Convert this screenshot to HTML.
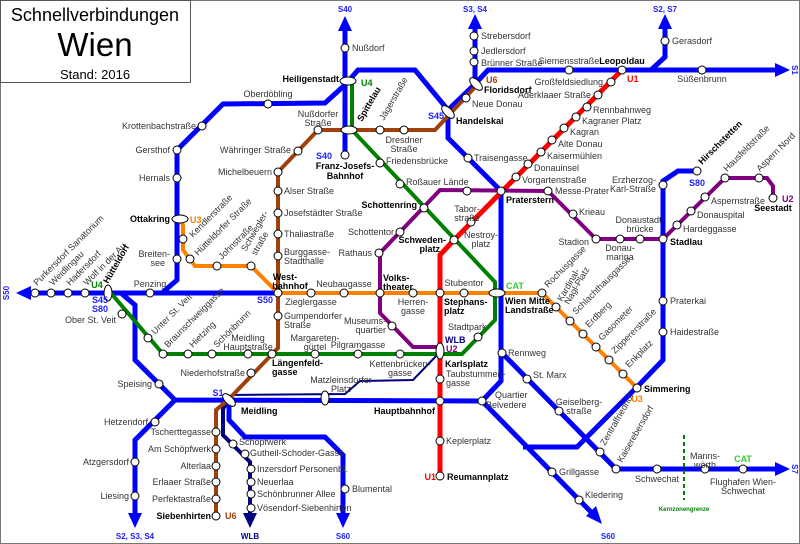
<!DOCTYPE html>
<html><head><meta charset="utf-8"><style>
html,body{margin:0;padding:0;background:#fff}
svg{display:block}
text{font-family:"Liberation Sans",sans-serif;font-size:9px;fill:#333}
.b{font-weight:bold;fill:#000}
.bl{fill:#2020ff;font-weight:bold}
</style></head><body>
<svg width="800" height="544" viewBox="0 0 800 544" xmlns="http://www.w3.org/2000/svg">
<rect x="0.5" y="0.5" width="799" height="543" fill="#fff" stroke="#777"/>
<rect x="0.5" y="0.5" width="190" height="82" fill="#fff" stroke="#555"/>
<text x="95" y="21" text-anchor="middle" style="font-size:18px;fill:#000">Schnellverbindungen</text>
<text x="95" y="56" text-anchor="middle" style="font-size:33px;fill:#000">Wien</text>
<text x="95" y="79" text-anchor="middle" style="font-size:13px;fill:#000">Stand: 2016</text>

<g fill="none" stroke-linejoin="miter">
<polyline stroke="#000080" stroke-width="4" points="227,402 223,409 223,435 250,462 250,522"/>
<polyline stroke="#000080" stroke-width="2" points="232,395 345,394 360,381 413,380 440,352"/>
<g stroke="#0000ff" stroke-width="5">
<polyline points="345,28 345,155"/>
<polyline points="345,85 358,70 415,70 448,110 448,138 501,191 501,381 482,401"/>
<polyline points="448,110 475,84 475,26"/>
<polyline points="475,84 488,70 780,70"/>
<polyline points="651,70 665,57 665,28"/>
<polyline points="347,83 325,103 223,104 177,150 177,280 163,292"/>
<polyline points="28,293 278,293"/>
<polyline points="122,294 135,305 135,360 175,400 482,401"/>
<polyline points="175,400 135,440 135,516"/>
<polyline points="229,401 229,420 245,437 325,437 343,455 343,516"/>
<polyline points="482,401 592,513"/>
<polyline points="502,353 616,469 780,469"/>
<polyline points="697,171 678,171 663,181 663,360 637,387 577,447 530,447 523,447"/>
</g>
<polyline stroke="#008000" stroke-width="4" points="352,80 352,130 495,282 495,320 462,354 400,354 163,354 110,292"/>
<polyline stroke="#ff0000" stroke-width="5" points="622,70 454,240 440,255 440,476"/>
<polyline stroke="#a0400a" stroke-width="4" points="476,86 435,130 318,130 278,172 278,348 229,399 216,410 216,516"/>
<polyline stroke="#ff7f00" stroke-width="4" points="180,219 183,225 183,250 195,266 251,266 278,293 542,293 637,388"/>
<polyline stroke="#800080" stroke-width="4" points="440,347 413,347 380,313 380,253 440,190 548,191 596,239 663,239 725,178 767,178 773,186 773,198"/>
<line x1="684" y1="435" x2="684" y2="500" stroke="#008000" stroke-width="2" stroke-dasharray="4,3"/>
</g>
<g fill="#0000ff">
<polygon points="345,16 338,31 352,31"/>
<polygon points="475,14 468,29 482,29"/>
<polygon points="665,14 658,29 672,29"/>
<polygon points="790,70 775,63 775,77"/>
<polygon points="790,469 775,462 775,476"/>
<polygon points="16,293 31,286 31,300"/>
<polygon points="135,528 128,513 142,513"/>
<polygon points="343,528 336,513 350,513"/>
<polygon points="602,524 586,516 596,506"/>
</g>
<polygon points="250,528 243,513 257,513" fill="#000080"/>

<g fill="#fff" stroke="#000" stroke-width="1">
<circle cx="345" cy="48" r="4"/><circle cx="345" cy="155" r="4"/>
<circle cx="468" cy="158" r="4"/><circle cx="501" cy="191" r="4"/><circle cx="502" cy="353" r="4"/><circle cx="482" cy="401" r="4"/>
<circle cx="474" cy="62" r="4"/><circle cx="474" cy="51" r="4"/><circle cx="474" cy="36" r="4"/>
<circle cx="569" cy="70" r="4"/><circle cx="622" cy="70" r="4"/><circle cx="702" cy="70" r="4"/><circle cx="665" cy="41" r="4"/>
<circle cx="202" cy="126" r="4"/><circle cx="268" cy="104" r="4"/><circle cx="177" cy="150" r="4"/><circle cx="177" cy="178" r="4"/><circle cx="177" cy="259" r="4"/>
<circle cx="35" cy="293" r="4"/><circle cx="51" cy="293" r="4"/><circle cx="68" cy="293" r="4"/><circle cx="85" cy="293" r="4"/><circle cx="150" cy="293" r="4"/><circle cx="278" cy="293" r="4"/>
<circle cx="159" cy="384" r="4"/><circle cx="155" cy="422" r="4"/><circle cx="135" cy="462" r="4"/><circle cx="135" cy="496" r="4"/>
<circle cx="345" cy="489" r="4"/>
<circle cx="233" cy="444" r="4"/><circle cx="245" cy="454" r="4"/><circle cx="251" cy="469" r="4"/><circle cx="251" cy="482" r="4"/><circle cx="251" cy="494" r="4"/><circle cx="251" cy="508" r="4"/>
<circle cx="663" cy="185" r="4"/><circle cx="697" cy="171" r="4"/><circle cx="663" cy="239" r="4"/><circle cx="663" cy="301" r="4"/><circle cx="663" cy="332" r="4"/><circle cx="637" cy="388" r="4"/>
<circle cx="552" cy="472" r="4"/><circle cx="579" cy="500" r="4"/>
<circle cx="527" cy="379" r="4"/><circle cx="559" cy="411" r="4"/><circle cx="600" cy="452" r="4"/><circle cx="616" cy="469" r="4"/><circle cx="657" cy="469" r="4"/><circle cx="705" cy="469" r="4"/><circle cx="743" cy="469" r="4"/>
<circle cx="611" cy="82" r="4"/><circle cx="598" cy="95" r="4"/><circle cx="587" cy="107" r="4"/><circle cx="576" cy="117" r="4"/><circle cx="564" cy="128" r="4"/><circle cx="552" cy="140" r="4"/><circle cx="541" cy="152" r="4"/><circle cx="528" cy="164" r="4"/><circle cx="516" cy="177" r="4"/><circle cx="471" cy="222" r="4"/><circle cx="454" cy="240" r="4"/>
<circle cx="440" cy="293" r="4"/><circle cx="440" cy="379" r="4"/><circle cx="440" cy="401" r="4"/><circle cx="440" cy="441" r="4"/><circle cx="440" cy="476" r="4"/>
<circle cx="380" cy="163" r="4"/><circle cx="400" cy="184" r="4"/><circle cx="424" cy="208" r="4"/><circle cx="478" cy="337" r="4"/>
<circle cx="400" cy="354" r="4"/><circle cx="358" cy="354" r="4"/><circle cx="315" cy="354" r="4"/><circle cx="272" cy="354" r="4"/><circle cx="248" cy="354" r="4"/><circle cx="212" cy="354" r="4"/><circle cx="188" cy="354" r="4"/><circle cx="163" cy="354" r="4"/><circle cx="148" cy="338" r="4"/><circle cx="122" cy="314" r="4"/>
<circle cx="466" cy="98" r="4"/><circle cx="380" cy="130" r="4"/><circle cx="404" cy="130" r="4"/><circle cx="318" cy="130" r="4"/><circle cx="298" cy="151" r="4"/><circle cx="278" cy="172" r="4"/><circle cx="278" cy="191" r="4"/><circle cx="278" cy="213" r="4"/><circle cx="278" cy="234" r="4"/><circle cx="278" cy="256" r="4"/><circle cx="278" cy="316" r="4"/><circle cx="251" cy="373" r="4"/>
<circle cx="216" cy="432" r="4"/><circle cx="216" cy="449" r="4"/><circle cx="216" cy="466" r="4"/><circle cx="216" cy="482" r="4"/><circle cx="216" cy="499" r="4"/><circle cx="216" cy="516" r="4"/>
<circle cx="183" cy="239" r="4"/><circle cx="190" cy="259" r="4"/><circle cx="217" cy="266" r="4"/><circle cx="251" cy="266" r="4"/>
<circle cx="311" cy="293" r="4"/><circle cx="344" cy="293" r="4"/><circle cx="380" cy="293" r="4"/><circle cx="413" cy="293" r="4"/><circle cx="464" cy="293" r="4"/><circle cx="542" cy="293" r="4"/>
<circle cx="556" cy="307" r="4"/><circle cx="570" cy="321" r="4"/><circle cx="583" cy="334" r="4"/><circle cx="596" cy="347" r="4"/><circle cx="609" cy="360" r="4"/><circle cx="623" cy="374" r="4"/>
<circle cx="392" cy="326" r="4"/><circle cx="379" cy="253" r="4"/><circle cx="400" cy="232" r="4"/><circle cx="467" cy="191" r="4"/><circle cx="548" cy="191" r="4"/><circle cx="573" cy="214" r="4"/><circle cx="596" cy="239" r="4"/><circle cx="620" cy="239" r="4"/><circle cx="640" cy="239" r="4"/>
<circle cx="677" cy="225" r="4"/><circle cx="691" cy="211" r="4"/><circle cx="705" cy="197" r="4"/><circle cx="725" cy="178" r="4"/><circle cx="759" cy="178" r="4"/><circle cx="773" cy="198" r="4"/>
<ellipse cx="348" cy="81" rx="8" ry="4"/><ellipse cx="349" cy="130" rx="8" ry="4"/><ellipse cx="180" cy="219" rx="8" ry="4"/>
<ellipse cx="108" cy="293" rx="4" ry="8"/><ellipse cx="497" cy="293" rx="8" ry="4"/><ellipse cx="440" cy="351" rx="4" ry="8"/>
<ellipse cx="325" cy="398" rx="4" ry="7"/>
<ellipse cx="448" cy="112" rx="8" ry="4" transform="rotate(45 448 112)"/>
<ellipse cx="476" cy="84" rx="8" ry="4" transform="rotate(45 476 84)"/>
<ellipse cx="229" cy="400" rx="8" ry="4" transform="rotate(45 229 400)"/>
</g>

<text x="352" y="51">Nußdorf</text>
<text x="339" y="82" text-anchor="end" class="b">Heiligenstadt</text>
<text x="361" y="86" style="fill:#008000;font-weight:bold">U4</text>
<text x="332" y="159" class="bl" text-anchor="end">S40</text>
<text x="345" y="169" text-anchor="middle" class="b">Franz-Josefs-</text>
<text x="345" y="179" text-anchor="middle" class="b">Bahnhof</text>
<text x="345" y="12" text-anchor="middle" class="bl" style="font-size:8px">S40</text>
<text x="475" y="12" text-anchor="middle" class="bl" style="font-size:8px">S3, S4</text>
<text x="665" y="12" text-anchor="middle" class="bl" style="font-size:8px">S2, S7</text>
<text x="792" y="70" class="bl" style="font-size:8px" transform="rotate(90 792 70)" text-anchor="middle">S1</text>
<text x="792" y="469" class="bl" style="font-size:8px" transform="rotate(90 792 469)" text-anchor="middle">S7</text>
<text x="9" y="293" class="bl" style="font-size:8px" transform="rotate(-90 9 293)" text-anchor="middle">S50</text>
<text x="135" y="539" text-anchor="middle" class="bl" style="font-size:8px">S2, S3, S4</text>
<text x="343" y="539" text-anchor="middle" class="bl" style="font-size:8px">S60</text>
<text x="608" y="539" text-anchor="middle" class="bl" style="font-size:8px">S60</text>
<text x="250" y="539" text-anchor="middle" class="b" style="fill:#000080;font-size:8px">WLB</text>
<text x="481" y="39">Strebersdorf</text><text x="481" y="54">Jedlersdorf</text><text x="481" y="66">Brünner Straße</text>
<text x="569" y="64" text-anchor="middle">Siemensstraße</text>
<text x="622" y="64" text-anchor="middle" class="b">Leopoldau</text>
<text x="702" y="82" text-anchor="middle">Süßenbrunn</text>
<text x="672" y="44">Gerasdorf</text>
<text x="486" y="83" style="fill:#a0400a;font-weight:bold">U6</text>
<text x="484" y="93" class="b">Floridsdorf</text>
<text x="472" y="107">Neue Donau</text>
<text x="456" y="124" class="b">Handelskai</text>
<text x="428" y="119" class="bl">S45</text>
<text x="474" y="161">Traisengasse</text>
<text x="506" y="203" class="b">Praterstern</text>
<text x="627" y="82" style="fill:#ff0000;font-weight:bold">U1</text>
<text x="603" y="85" text-anchor="end">Großfeldsiedlung</text>
<text x="591" y="98" text-anchor="end">Aderklaaer Straße</text>
<text x="593" y="113">Rennbahnweg</text>
<text x="582" y="124">Kagraner Platz</text>
<text x="570" y="135">Kagran</text>
<text x="558" y="147">Alte Donau</text>
<text x="547" y="159">Kaisermühlen</text>
<text x="534" y="171">Donauinsel</text>
<text x="522" y="183">Vorgartenstraße</text>
<text x="555" y="194">Messe-Prater</text>
<text x="579" y="215">Krieau</text>
<text x="589" y="245" text-anchor="end">Stadion</text>
<text x="620" y="251" text-anchor="middle">Donau-</text><text x="620" y="260" text-anchor="middle">marina</text>
<text x="640" y="223" text-anchor="middle">Donaustadt-</text><text x="640" y="232" text-anchor="middle">brücke</text>
<text x="670" y="245" class="b">Stadlau</text>
<text x="656" y="183" text-anchor="end">Erzherzog-</text><text x="656" y="192" text-anchor="end">Karl-Straße</text>
<text x="697" y="186" text-anchor="middle" class="bl">S80</text>
<text x="683" y="232">Hardeggasse</text>
<text x="697" y="218">Donauspital</text>
<text x="711" y="204">Aspernstraße</text>
<text x="782" y="202" style="fill:#800080;font-weight:bold">U2</text>
<text x="773" y="211" text-anchor="middle" class="b">Seestadt</text>
<text x="702" y="165" class="b" transform="rotate(-45 702 165)">Hirschstetten</text>
<text x="727" y="172" transform="rotate(-45 727 172)">Hausfeldstraße</text>
<text x="760" y="172" transform="rotate(-45 760 172)">Aspern Nord</text>
<text x="670" y="304">Praterkai</text>
<text x="670" y="335">Haidestraße</text>
<text x="644" y="392" class="b">Simmering</text>
<text x="637" y="402" text-anchor="middle" style="fill:#ff7f00;font-weight:bold">U3</text>
<text x="508" y="356">Rennweg</text>
<text x="533" y="378">St. Marx</text>
<text x="579" y="405" text-anchor="middle">Geiselberg-</text><text x="579" y="414" text-anchor="middle">straße</text>
<text x="605" y="446" transform="rotate(-60 605 446)">Zentralfriedhof</text>
<text x="622" y="463" transform="rotate(-60 622 463)">Kaiserebersdorf</text>
<text x="657" y="482" text-anchor="middle">Schwechat</text>
<text x="705" y="459" text-anchor="middle">Manns-</text><text x="705" y="468" text-anchor="middle">wörth</text>
<text x="743" y="462" text-anchor="middle" style="fill:#33cc33;font-weight:bold">CAT</text>
<text x="743" y="485" text-anchor="middle">Flughafen Wien-</text><text x="743" y="494" text-anchor="middle">Schwechat</text>
<text x="684" y="511" text-anchor="middle" style="fill:#008000;font-size:6px;font-weight:bold">Kernzonengrenze</text>
<text x="559" y="475">Grillgasse</text>
<text x="585" y="498">Kledering</text>
<text x="495" y="398">Quartier</text><text x="486" y="408">Belvedere</text>
<text x="435" y="414" text-anchor="end" class="b">Hauptbahnhof</text>
<text x="446" y="444">Keplerplatz</text>
<text x="447" y="480" class="b">Reumannplatz</text>
<text x="436" y="480" text-anchor="end" style="fill:#ff0000;font-weight:bold">U1</text>
<text x="446" y="377">Taubstummen-</text><text x="446" y="386">gasse</text>
<text x="445" y="367" class="b">Karlsplatz</text>
<text x="445" y="343" class="b" style="fill:#000080">WLB</text>
<text x="446" y="352" style="fill:#800080;font-weight:bold">U2</text>
<text x="448" y="330">Stadtpark</text>
<text x="505" y="304" class="b">Wien Mitte</text><text x="505" y="313" class="b">Landstraße</text>
<text x="506" y="289" style="fill:#33cc33;font-weight:bold">CAT</text>
<text x="464" y="286" text-anchor="middle">Stubentor</text>
<text x="444" y="305" class="b">Stephans-</text><text x="444" y="314" class="b">platz</text>
<text x="413" y="305" text-anchor="middle">Herren-</text><text x="413" y="314" text-anchor="middle">gasse</text>
<text x="383" y="281" class="b">Volks-</text><text x="383" y="290" class="b">theater</text>
<text x="344" y="287" text-anchor="middle">Neubaugasse</text>
<text x="311" y="305" text-anchor="middle">Zieglergasse</text>
<text x="285" y="280" class="b" text-anchor="middle">West-</text><text x="290" y="289" class="b" text-anchor="middle">bahnhof</text>
<text x="273" y="303" class="bl" text-anchor="end">S50</text>
<text x="284" y="319">Gumpendorfer</text><text x="284" y="328">Straße</text>
<text x="386" y="324" text-anchor="end">Museums-</text><text x="386" y="333" text-anchor="end">quartier</text>
<text x="315" y="341" text-anchor="middle">Margareten-</text><text x="315" y="350" text-anchor="middle">gürtel</text>
<text x="358" y="348" text-anchor="middle">Pilgramgasse</text>
<text x="400" y="367" text-anchor="middle">Kettenbrücken-</text><text x="400" y="376" text-anchor="middle">gasse</text>
<text x="248" y="341" text-anchor="middle">Meidling</text><text x="248" y="350" text-anchor="middle">Hauptstraße</text>
<text x="272" y="366" class="b">Längenfeld-</text><text x="272" y="375" class="b">gasse</text>
<text x="245" y="376" text-anchor="end">Niederhofstraße</text>
<text x="341" y="383" text-anchor="middle">Matzleinsdorfer</text><text x="341" y="392" text-anchor="middle">Platz</text>
<text x="241" y="414" class="b">Meidling</text>
<text x="218" y="396" class="bl" text-anchor="middle">S1</text>
<text x="152" y="387" text-anchor="end">Speising</text>
<text x="148" y="425" text-anchor="end">Hetzendorf</text>
<text x="129" y="465" text-anchor="end">Atzgersdorf</text>
<text x="129" y="499" text-anchor="end">Liesing</text>
<text x="211" y="435" text-anchor="end">Tscherttegasse</text>
<text x="211" y="452" text-anchor="end">Am Schöpfwerk</text>
<text x="211" y="469" text-anchor="end">Alterlaa</text>
<text x="211" y="485" text-anchor="end">Erlaaer Straße</text>
<text x="211" y="502" text-anchor="end">Perfektastraße</text>
<text x="211" y="519" text-anchor="end" class="b">Siebenhirten</text>
<text x="225" y="519" style="fill:#a0400a;font-weight:bold">U6</text>
<text x="239" y="445">Schöpfwerk</text>
<text x="250" y="456">Gutheil-Schoder-Gasse</text>
<text x="257" y="472">Inzersdorf Personenbf.</text>
<text x="257" y="485">Neuerlaa</text>
<text x="257" y="497">Schönbrunner Allee</text>
<text x="257" y="511">Vösendorf-Siebenhirten</text>
<text x="352" y="492">Blumental</text>
<text x="268" y="97" text-anchor="middle">Oberdöbling</text>
<text x="196" y="129" text-anchor="end">Krottenbachstraße</text>
<text x="170" y="153" text-anchor="end">Gersthof</text>
<text x="170" y="181" text-anchor="end">Hernals</text>
<text x="170" y="222" text-anchor="end" class="b">Ottakring</text>
<text x="190" y="223" style="fill:#ff7f00;font-weight:bold">U3</text>
<text x="170" y="257" text-anchor="end">Breiten-</text><text x="165" y="266" text-anchor="end">see</text>
<text x="150" y="287" text-anchor="middle">Penzing</text>
<text x="97" y="288" style="fill:#008000;font-weight:bold" text-anchor="middle">U4</text>
<text x="100" y="303" class="bl" text-anchor="middle">S45</text><text x="100" y="312" class="bl" text-anchor="middle">S80</text>
<text x="116" y="323" text-anchor="end">Ober St. Veit</text>
<text x="318" y="117" text-anchor="middle">Nußdorfer</text><text x="318" y="126" text-anchor="middle">Straße</text>
<text x="291" y="153" text-anchor="end">Währinger Straße</text>
<text x="272" y="175" text-anchor="end">Michelbeuern</text>
<text x="284" y="194">Alser Straße</text>
<text x="284" y="216">Josefstädter Straße</text>
<text x="284" y="237">Thaliastraße</text>
<text x="284" y="255">Burggasse-</text><text x="284" y="264">Stadthalle</text>
<text x="404" y="143" text-anchor="middle">Dresdner</text><text x="404" y="152" text-anchor="middle">Straße</text>
<text x="386" y="164">Friedensbrücke</text>
<text x="406" y="185">Roßauer Lände</text>
<text x="417" y="208" text-anchor="end" class="b">Schottenring</text>
<text x="394" y="235" text-anchor="end">Schottentor</text>
<text x="372" y="256" text-anchor="end">Rathaus</text>
<text x="446" y="243" class="b" text-anchor="end">Schweden-</text><text x="440" y="252" class="b" text-anchor="end">platz</text>
<text x="467" y="212" text-anchor="middle">Tabor-</text><text x="467" y="221" text-anchor="middle">straße</text>
<text x="481" y="238" text-anchor="middle">Nestroy-</text><text x="481" y="247" text-anchor="middle">platz</text>
<text x="362" y="122" class="b" transform="rotate(-60 362 122)">Spittelau</text>
<text x="384" y="121" transform="rotate(-60 384 121)">Jägerstraße</text>
<text x="193" y="238" transform="rotate(-45 193 238)">Kendlerstraße</text>
<text x="198" y="256" transform="rotate(-45 198 256)">Hütteldorfer Straße</text>
<text x="222" y="260" transform="rotate(-45 222 260)">Johnstraße</text>
<text x="246" y="252" transform="rotate(-60 246 252)">Schwegler-</text><text x="256" y="256" transform="rotate(-60 256 256)">straße</text>
<text x="37" y="286" transform="rotate(-45 37 286)">Purkersdorf Sanatorium</text>
<text x="53" y="286" transform="rotate(-45 53 286)">Weidlingau</text>
<text x="70" y="286" transform="rotate(-45 70 286)">Hadersdorf</text>
<text x="87" y="286" transform="rotate(-45 87 286)">Wolf in der Au</text>
<text x="108" y="284" class="b" transform="rotate(-60 108 284)">Hütteldorf</text>
<text x="155" y="335" transform="rotate(-45 155 335)">Unter St. Veit</text>
<text x="168" y="348" transform="rotate(-45 168 348)">Braunschweiggasse</text>
<text x="193" y="348" transform="rotate(-45 193 348)">Hietzing</text>
<text x="217" y="348" transform="rotate(-45 217 348)">Schönbrunn</text>
<text x="548" y="288" transform="rotate(-45 548 288)">Rochusgasse</text>
<text x="562" y="302" transform="rotate(-60 562 302)">Kardinal-</text><text x="569" y="305" transform="rotate(-60 569 305)">Nagl-Platz</text>
<text x="576" y="315" transform="rotate(-45 576 315)">Schlachthausgasse</text>
<text x="589" y="328" transform="rotate(-45 589 328)">Erdberg</text>
<text x="602" y="341" transform="rotate(-45 602 341)">Gasometer</text>
<text x="615" y="354" transform="rotate(-45 615 354)">Zippererstraße</text>
<text x="629" y="368" transform="rotate(-45 629 368)">Enkplatz</text>
</svg>
</body></html>
